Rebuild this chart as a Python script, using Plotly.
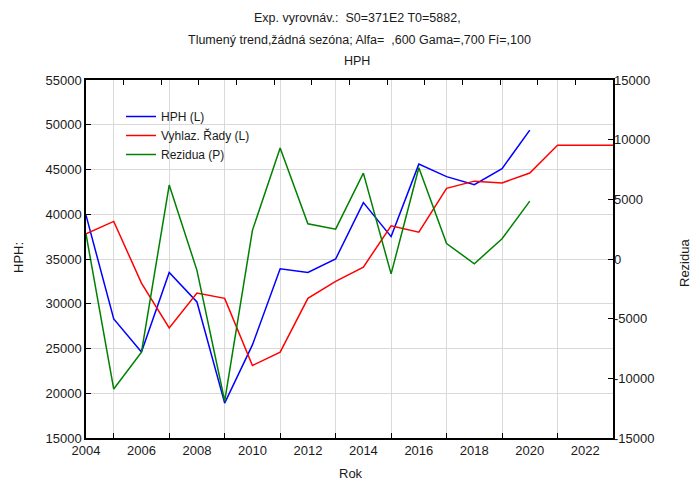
import plotly.graph_objects as go

# data
roky = list(range(2004, 2021))
roky_vyhl = list(range(2004, 2024))

hph = [39900, 28300, 24600, 33500, 30200, 18900, 25400, 33900, 33500,
       35000, 41300, 37500, 45600, 44200, 43300, 45100, 49400]

vyhlazene = [37800, 39200, 32300, 27300, 31200, 30600, 23100, 24600, 30600,
             32500, 34100, 38700, 38000, 42900, 43700, 43500, 44600,
             47700, 47700, 47700]

rezidua = [2100, -10900, -7800, 6200, -950, -11900, 2400, 9300, 2950,
           2500, 7200, -1250, 7650, 1300, -400, 1700, 4850]

levy_ticks = [15000, 20000, 25000, 30000, 35000, 40000, 45000, 50000, 55000]
pravy_ticks = [-15000, -10000, -5000, 0, 5000, 10000, 15000]
x_labels = list(range(2004, 2023, 2))

FONT = "Liberation Sans, Arial, sans-serif"
W, H = 693, 482
ML, MR, MT, MB = 86, 80, 80, 44
PW, PH = W - ML - MR, H - MT - MB


# pixel -> paper coordinates (for the text placement)
def px(x):
    return (x - ML) / PW


def py(y):
    return (H - MB - y) / PH


fig = go.Figure()
fig.add_trace(go.Scatter(x=roky, y=hph, name="HPH (L)", mode="lines",
                         line=dict(color="#0000ff", width=1.5)))
fig.add_trace(go.Scatter(x=roky_vyhl, y=vyhlazene, name="Vyhlaz. Řady (L)", mode="lines",
                         line=dict(color="#ff0000", width=1.5)))
fig.add_trace(go.Scatter(x=roky, y=rezidua, name="Rezidua (P)", mode="lines", yaxis="y2",
                         line=dict(color="#008000", width=1.5)))
# empty trace so that the top tick axis gets drawn
fig.add_trace(go.Scatter(x=[], y=[], xaxis="x3", showlegend=False, hoverinfo="skip"))

fig.update_layout(
    width=W, height=H,
    margin=dict(l=ML, r=MR, t=MT, b=MB),
    paper_bgcolor="white", plot_bgcolor="white",
    font=dict(family=FONT, size=13, color="#1a1a1a"),
    showlegend=True,
    legend=dict(x=px(121), y=py(102), xanchor="left", yanchor="top",
                bgcolor="rgba(0,0,0,0)", font=dict(size=12), tracegroupgap=0),
    xaxis=dict(range=[2004, 2023], tickvals=x_labels, ticks="", showgrid=False,
               showline=True, linecolor="black", linewidth=1.5, mirror=True,
               zeroline=False, tickfont=dict(size=13),
               minor=dict(tick0=2005, dtick=2, ticks="inside", ticklen=5,
                          tickcolor="black", showgrid=True,
                          gridcolor="#d9d9d9", gridwidth=1.2)),
    xaxis3=dict(range=[0, 14], overlaying="x", side="top", anchor="y",
                tickvals=list(range(1, 14)), ticks="inside", ticklen=5,
                tickcolor="black", showticklabels=False, showgrid=False,
                zeroline=False, showline=False),
    yaxis=dict(range=[15000, 55000], tickvals=levy_ticks,
               ticktext=[str(v) for v in levy_ticks],
               ticks="inside", ticklen=5, tickcolor="black",
               showgrid=True, gridcolor="#d9d9d9", gridwidth=1.2,
               showline=True, linecolor="black", linewidth=1.5, mirror=True,
               zeroline=False, tickfont=dict(size=13)),
    yaxis2=dict(range=[-15000, 15000], overlaying="y", side="right",
                tickvals=pravy_ticks, ticktext=[str(v) for v in pravy_ticks],
                ticks="inside", ticklen=5, tickcolor="black", showgrid=False,
                zeroline=False, showline=False, tickfont=dict(size=13)),
)

texty = [
    ("Exp. vyrovnáv.:  S0=371E2 T0=5882,", 357, 18, 0),
    ("Tlumený trend,žádná sezóna; Alfa=  ,600 Gama=,700 Fí=,100", 359, 40, 0),
    ("HPH", 357, 61, 0),
    ("HPH:", 18, 258, -90),
    ("Rezidua", 684, 263, -90),
    ("Rok", 351, 473, 0),
]
for t, x, y, a in texty:
    fig.add_annotation(text=t, x=px(x), y=py(y), xref="paper", yref="paper",
                       xanchor="center", yanchor="middle", showarrow=False,
                       textangle=a, font=dict(size=12.5 if a == 0 and y < 70 else 13))

fig.write_html("out.html", config={"displayModeBar": False},
               post_script="document.body.style.margin='0px';")
